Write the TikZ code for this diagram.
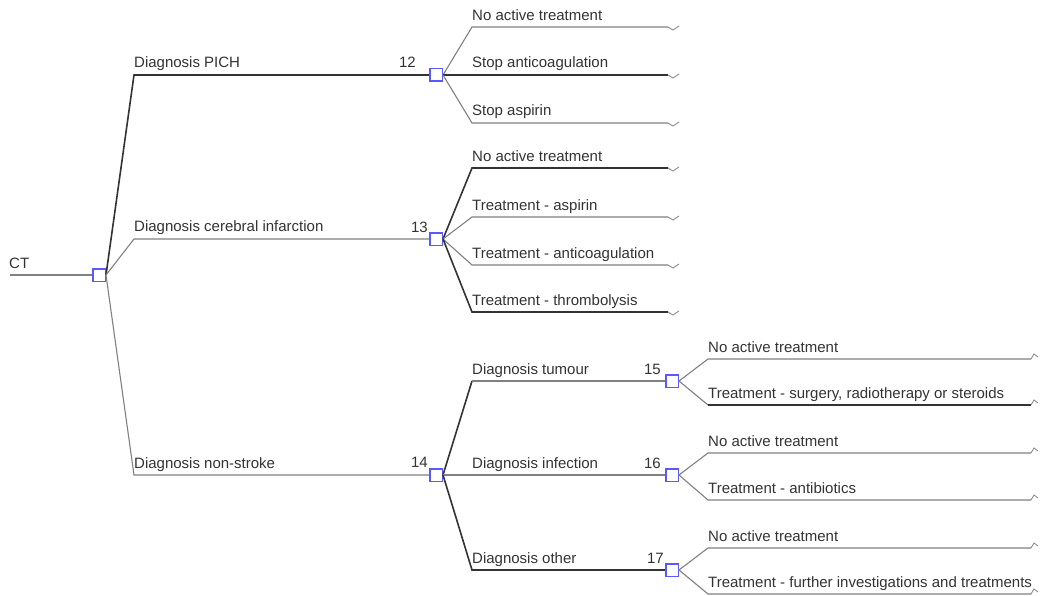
\documentclass[tikz,border=0pt]{standalone}
\usepackage{fontspec}
\setmainfont{Liberation Sans}
\begin{document}
\begin{tikzpicture}[x=1pt,y=-1pt,
  br/.style={draw=black!50,line width=1.1pt},
  opt/.style={draw=black!80,line width=1.6pt},
  tip/.style={draw=black!45,line width=0.9pt},
  dec/.style={draw=blue!65!white,line width=1.5pt,fill=white,rectangle,minimum size=12.5pt,inner sep=0pt},
  lab/.style={anchor=base west,inner sep=0pt,font=\fontsize{15}{17}\selectfont,text=black!80},
  num/.style={anchor=base east,inner sep=0pt,font=\fontsize{15}{17}\selectfont,text=black!80}]
\useasboundingbox (0,0) rectangle (1043,596);

% root
\coordinate (ct) at (10,275);
\node[lab] (ctl) at (9,268) {CT};
\node[dec] (d0) at (99,275) {};
\draw[br] (ct) -- (d0.west);

% first level
\coordinate (c1) at (134,75);
\coordinate (c2) at (134,239);
\coordinate (c3) at (134,475);
\node[dec] (d12) at (436,75) {};
\node[dec] (d13) at (436,239) {};
\node[dec] (d14) at (436,475) {};
\draw[opt] (d0.east) -- (c1) -- (d12.west);
\draw[br] (d0.east) -- (c2) -- (d13.west);
\draw[br] (d0.east) -- (c3) -- (d14.west);
\node[lab] (l1) at (134,68) {Diagnosis PICH};
\node[lab] (l2) at (134,231) {Diagnosis cerebral infarction};
\node[lab] (l3) at (134,468) {Diagnosis non-stroke};
\node[num] (n12) at (416,68) {12};
\node[num] (n13) at (428,232) {13};
\node[num] (n14) at (428,467) {14};

% children of 12
\coordinate (a1) at (472,27);  \coordinate (ae1) at (668,27);
\coordinate (a2) at (472,75);  \coordinate (ae2) at (668,75);
\coordinate (a3) at (472,123); \coordinate (ae3) at (668,123);
\draw[br] (d12.east) -- (a1) -- (ae1);
\draw[opt] (d12.east) -- (a2) -- (ae2);
\draw[br] (d12.east) -- (a3) -- (ae3);
\node[lab] (la1) at (472,21) {No active treatment};
\node[lab] (la2) at (472,68) {Stop anticoagulation};
\node[lab] (la3) at (472,116) {Stop aspirin};

% children of 13
\coordinate (b1) at (472,168); \coordinate (be1) at (668,168);
\coordinate (b2) at (472,217); \coordinate (be2) at (668,217);
\coordinate (b3) at (472,265); \coordinate (be3) at (668,265);
\coordinate (b4) at (472,312); \coordinate (be4) at (668,312);
\draw[opt] (d13.east) -- (b1) -- (be1);
\draw[br] (d13.east) -- (b2) -- (be2);
\draw[br] (d13.east) -- (b3) -- (be3);
\draw[opt] (d13.east) -- (b4) -- (be4);
\node[lab] (lb1) at (472,162) {No active treatment};
\node[lab] (lb2) at (472,210) {Treatment - aspirin};
\node[lab] (lb3) at (472,258) {Treatment - anticoagulation};
\node[lab] (lb4) at (472,305) {Treatment - thrombolysis};

\foreach \e in {ae1,ae2,ae3,be1,be2,be3,be4}
  \draw[tip] (\e) -- ++(5,3) -- ++(6,-4);

% children of 14
\coordinate (t1) at (472,381);
\coordinate (t2) at (472,475);
\coordinate (t3) at (472,570);
\node[dec] (d15) at (672,381) {};
\node[dec] (d16) at (672,475) {};
\node[dec] (d17) at (672,570) {};
\draw[opt] (d14.east) -- (t1);
\draw[br] (t1) -- (d15.west);
\draw[br] (d14.east) -- (t2) -- (d16.west);
\draw[opt] (d14.east) -- (t3) -- (d17.west);
\node[lab] (lt1) at (472,374) {Diagnosis tumour};
\node[lab] (lt2) at (472,468) {Diagnosis infection};
\node[lab] (lt3) at (472,563) {Diagnosis other};
\node[num] (n15) at (661,374) {15};
\node[num] (n16) at (661,468) {16};
\node[num] (n17) at (664,563) {17};

% children of 15, 16, 17
\coordinate (p1) at (708,359); \coordinate (pe1) at (1031,359);
\coordinate (p2) at (708,405); \coordinate (pe2) at (1031,405);
\coordinate (q1) at (708,453); \coordinate (qe1) at (1031,453);
\coordinate (q2) at (708,500); \coordinate (qe2) at (1031,500);
\coordinate (r1) at (708,548); \coordinate (re1) at (1031,548);
\coordinate (r2) at (708,594); \coordinate (re2) at (1031,594);
\draw[br] (d15.east) -- (p1) -- (pe1);
\draw[br] (d15.east) -- (p2);
\draw[opt] (p2) -- (pe2);
\draw[br] (d16.east) -- (q1) -- (qe1);
\draw[br] (d16.east) -- (q2) -- (qe2);
\draw[br] (d17.east) -- (r1) -- (re1);
\draw[br] (d17.east) -- (r2) -- (re2);
\node[lab] (lp1) at (708,352) {No active treatment};
\node[lab] (lp2) at (708,398) {Treatment - surgery, radiotherapy or steroids};
\node[lab] (lq1) at (708,446) {No active treatment};
\node[lab] (lq2) at (708,493) {Treatment - antibiotics};
\node[lab] (lr1) at (708,541) {No active treatment};
\node[lab] (lr2) at (708,587) {Treatment - further investigations and treatments};

\foreach \e in {pe1,pe2,qe1,qe2,re1,re2}
  \draw[tip] (\e) -- ++(3,-5) -- ++(4,3);
\end{tikzpicture}
\end{document}
